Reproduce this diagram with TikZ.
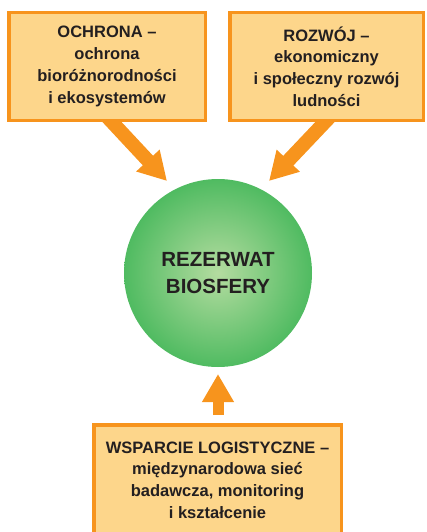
\documentclass[tikz,border=0pt]{standalone}
\usepackage{fontspec}
\setmainfont{Liberation Sans}
\usepackage{tikz}
\usetikzlibrary{arrows.meta,backgrounds}

\definecolor{boxfill}{HTML}{FDD68B}
\definecolor{boxline}{HTML}{F7941D}
\definecolor{ballin}{HTML}{B4DCA0}
\definecolor{ballout}{HTML}{2BAF4A}
\definecolor{txt}{HTML}{231F20}

\pgfdeclareradialshading{biosphere}{\pgfpoint{0bp}{0bp}}{color(0bp)=(ballin); color(12bp)=(ballin!65!ballout); color(34bp)=(ballout); color(50bp)=(ballout)}

\tikzset{
  infobox/.style={draw=boxline, line width=3.5pt, fill=boxfill, align=center,
    text=txt, font=\bfseries\fontsize{16.5}{21.7}\selectfont, inner sep=0pt},
  ball/.style={circle, shading=biosphere, minimum size=188pt, align=center,
    text=txt, font=\bfseries\fontsize{20.5}{26.7}\selectfont},
  fatarrow/.style={draw=boxline, line width=#1, -{Triangle[length=28pt,width=30pt]}}
}

\begin{document}
\begin{tikzpicture}[x=1pt,y=-1pt]
  \useasboundingbox (0,0) rectangle (426,532);

  \node[infobox, minimum width=196.5pt, minimum height=107.5pt] (ochrona) at (107,66.5)
    {OCHRONA --\\ochrona\\bioróżnorodności\\i ekosystemów};
  \node[infobox, minimum width=193.5pt, minimum height=107.5pt] (rozwoj) at (326.5,66.5)
    {ROZWÓJ --\\ekonomiczny\\i społeczny rozwój\\ludności};
  \node[ball] (rezerwat) at (218,273) {REZERWAT\\BIOSFERY};
  \node[infobox, minimum width=247.5pt, minimum height=110.5pt] (wsparcie) at (217.5,480)
    {WSPARCIE LOGISTYCZNE --\\międzynarodowa sieć\\badawcza, monitoring\\i kształcenie};

  % arrow tips, just outside the ball
  \coordinate (tipL) at (167,181);
  \coordinate (tipR) at (269,181);
  \coordinate (tipB) at (218,374);

  \begin{scope}[on background layer]
    \draw[fatarrow=14pt] ([shift={(-2.5pt,8pt)}]ochrona.south) -- (tipL);
    \draw[fatarrow=14pt] ([shift={(6.1pt,8pt)}]rozwoj.south) -- (tipR);
    \draw[fatarrow=11pt] ([shift={(0.5pt,8pt)}]wsparcie.north) -- (tipB);
  \end{scope}
\end{tikzpicture}
\end{document}
